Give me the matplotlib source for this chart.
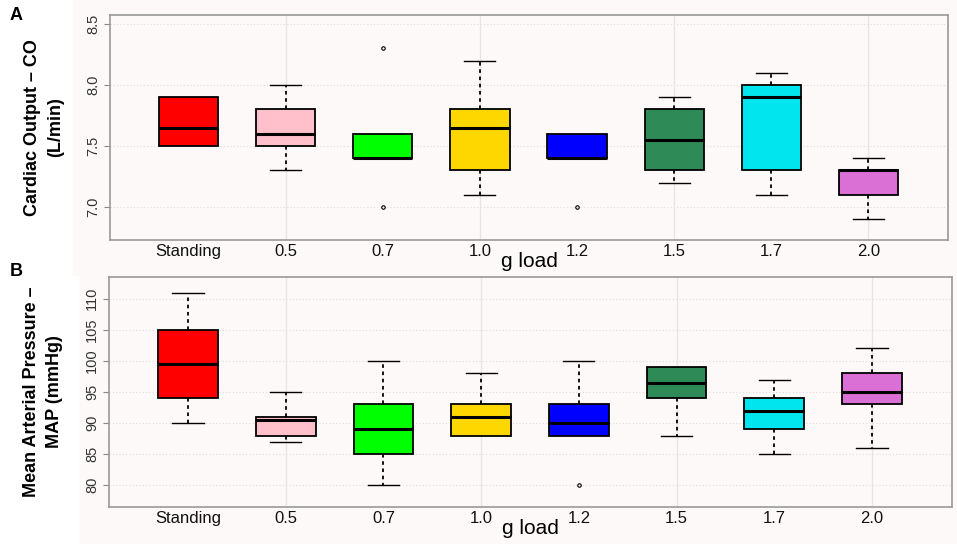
import matplotlib.pyplot as plt
from matplotlib.patches import Rectangle

categories = ["Standing", "0.5", "0.7", "1.0", "1.2", "1.5", "1.7", "2.0"]
colors = ["#FF0000", "#FFC0CB", "#00FF00", "#FFD700",
          "#0000FF", "#2E8B57", "#00E5EE", "#DA70D6"]

# panel A: cardiac output (L/min) -> whislo, q1, med, q3, whishi
co_whislo = [7.5, 7.3, 7.4, 7.1, 7.4, 7.2, 7.1, 6.9]
co_q1 = [7.5, 7.5, 7.4, 7.3, 7.4, 7.3, 7.3, 7.1]
co_med = [7.65, 7.6, 7.4, 7.65, 7.4, 7.55, 7.9, 7.3]
co_q3 = [7.9, 7.8, 7.6, 7.8, 7.6, 7.8, 8.0, 7.3]
co_whishi = [7.9, 8.0, 7.6, 8.2, 7.6, 7.9, 8.1, 7.4]
co_fliers = [[], [], [8.3, 7.0], [], [7.0], [], [], []]

# panel B: mean arterial pressure (mmHg)
map_whislo = [90, 87, 80, 88, 88, 88, 85, 86]
map_q1 = [94, 88, 85, 88, 88, 94, 89, 93]
map_med = [99.5, 90.5, 89, 91, 90, 96.5, 92, 95]
map_q3 = [105, 91, 93, 93, 93, 99, 94, 98]
map_whishi = [111, 95, 100, 98, 100, 99, 97, 102]
map_fliers = [[], [], [], [], [80], [], [], []]

BG = "#FDF9F8"
FONT = "Liberation Sans"


def make_stats(lo, q1, med, q3, hi, fl):
    return [dict(whislo=a, q1=b, med=c, q3=d, whishi=e, fliers=f)
            for a, b, c, d, e, f in zip(lo, q1, med, q3, hi, fl)]


def draw_panel(ax, stats, yticks, ylim, ylabel):
    ax.set_facecolor(BG)
    pos = list(range(1, len(categories) + 1))
    for t in yticks:
        ax.axhline(t, color="#DDDDDD", lw=0.8, ls=(0, (1, 2)), zorder=0)
    for p in pos[1::2]:
        ax.axvline(p, color="#E6E6E6", lw=1.0, zorder=0)
    bp = ax.bxp(stats, positions=pos, widths=0.61, patch_artist=True,
                showfliers=True,
                boxprops=dict(edgecolor="black", linewidth=1.3),
                medianprops=dict(color="black", linewidth=2.2),
                whiskerprops=dict(color="black", linewidth=1.3, linestyle=(0, (2, 2))),
                capprops=dict(color="black", linewidth=1.0),
                flierprops=dict(marker="o", markersize=2.5, markerfacecolor="none",
                                markeredgecolor="black", markeredgewidth=0.8))
    for patch, c in zip(bp["boxes"], colors):
        patch.set_facecolor(c)
    # shorter caps, and hide whiskers that have no length
    for i, st in enumerate(stats):
        for j, (end, edge) in enumerate([(st["whislo"], st["q1"]), (st["whishi"], st["q3"])]):
            cap = bp["caps"][2 * i + j]
            wh = bp["whiskers"][2 * i + j]
            x0, x1 = cap.get_xdata()
            xm = (x0 + x1) / 2
            cap.set_xdata([xm - 0.16, xm + 0.16])
            if end == edge:
                cap.set_visible(False)
                wh.set_visible(False)

    ax.set_xlim(0.19, 8.82)
    ax.set_ylim(*ylim)
    ax.set_yticks(yticks)
    ax.set_yticklabels([f"{t:g}" if isinstance(t, int) else f"{t:.1f}" for t in yticks],
                       rotation=90, va="center", fontsize=10.5, color="#333333",
                       family=FONT)
    ax.set_xticks(pos)
    ax.set_xticklabels(categories, fontsize=12, family=FONT, color="#111111")
    ax.tick_params(axis="x", length=0, pad=3)
    ax.tick_params(axis="y", length=4, color="#888888", pad=3)
    for s in ax.spines.values():
        s.set_color("#999999")
        s.set_linewidth(1.2)
    ax.set_ylabel(ylabel, fontsize=13, fontweight="bold", family=FONT,
                  labelpad=16, linespacing=1.5)
    ax.set_xlabel("g load", fontsize=15, family=FONT, labelpad=-5)


fig = plt.figure(figsize=(9.57, 5.44), dpi=100)
W, H = 957, 544
fig.patches.append(Rectangle((73 / W, 1 - 275 / H), 1 - 73 / W, 275 / H,
                             transform=fig.transFigure, color=BG, zorder=-5))
fig.patches.append(Rectangle((80 / W, 0), 1 - 80 / W, 1 - 276 / H,
                             transform=fig.transFigure, color=BG, zorder=-5))

ax_a = fig.add_axes([110 / W, 1 - 240 / H, (948 - 110) / W, (240 - 15) / H])
ax_b = fig.add_axes([109 / W, 1 - 507 / H, (952 - 109) / W, (507 - 277) / H])

draw_panel(ax_a, make_stats(co_whislo, co_q1, co_med, co_q3, co_whishi, co_fliers),
           [7.0, 7.5, 8.0, 8.5], (6.73, 8.574), "Cardiac Output \u2013 CO\n(L/min)")
draw_panel(ax_b, make_stats(map_whislo, map_q1, map_med, map_q3, map_whishi, map_fliers),
           [80, 85, 90, 95, 100, 105, 110], (76.5, 113.5),
           "Mean Arterial Pressure \u2013\nMAP (mmHg)")

fig.text(10 / W, 1 - 15 / H, "A", fontsize=13, fontweight="bold",
         family=FONT, va="center")
fig.text(10 / W, 1 - 272 / H, "B", fontsize=13, fontweight="bold",
         family=FONT, va="center")

fig.savefig("out.png", dpi=100)
